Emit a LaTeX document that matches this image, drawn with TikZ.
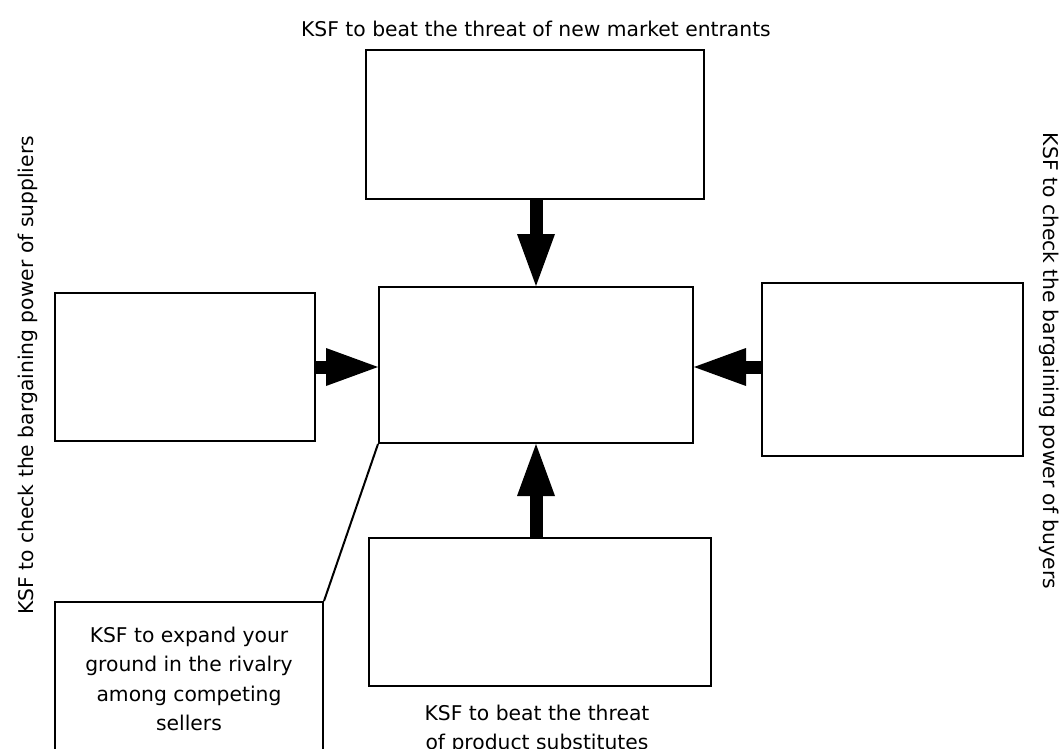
\documentclass[tikz,border=0pt]{standalone}
\usepackage{fontspec}
\setmainfont{DejaVu Sans}
\usetikzlibrary{arrows.meta}
\begin{document}
\begin{tikzpicture}[x=1pt,y=-1pt,
  box/.style={draw=black, line width=2pt, inner sep=0pt, fill=white},
  bigarrow/.style={line width=13pt, -{Triangle[length=52pt,width=38pt,line width=0pt]}},
  lab/.style={font=\fontsize{20.3pt}{29.5pt}\selectfont, inner sep=0pt, text=black},
  lnk/.style={line width=2pt}]
\useasboundingbox (0,0) rectangle (1062,749);
% boxes
\node[box, minimum width=338pt, minimum height=149pt] (top) at (535,124.5) {};
\node[box, minimum width=314pt, minimum height=156pt] (center) at (536,365) {};
\node[box, minimum width=260pt, minimum height=148pt] (left) at (185,367) {};
\node[box, minimum width=261pt, minimum height=173pt] (right) at (892.5,369.5) {};
\node[box, minimum width=342pt, minimum height=148pt] (bottom) at (540,612) {};
\node[box, minimum width=268pt, minimum height=168pt] (bl) at (189,686) {};
% connectors
\draw[bigarrow] (center.north |- top.south) -- (center.north);
\draw[bigarrow] (left.east) -- (center.west |- left.east);
\draw[bigarrow] (right.west |- left.east) -- (center.east |- left.east);
\draw[bigarrow] (center.south |- bottom.north) -- (center.south);
\draw[lnk] (center.south west) -- (bl.north east);
% labels
\node[lab, anchor=base] (ttop) at (536,37) {KSF to beat the threat of new market entrants};
\node[lab, anchor=base, rotate=90] (tleft) at (33,375.5) {KSF to check the bargaining power of suppliers};
\node[lab, anchor=base, rotate=-90] (tright) at (1043,361) {KSF to check the bargaining power of buyers};
\node[lab, anchor=base] (tbl) at (189,642) {\begin{tabular}[t]{@{}c@{}}KSF to expand your\\ground in the rivalry\\among competing\\sellers\end{tabular}};
\node[lab, anchor=base] (tbottom) at (537,720) {\begin{tabular}[t]{@{}c@{}}KSF to beat the threat\\of product substitutes\end{tabular}};
\end{tikzpicture}
\end{document}
